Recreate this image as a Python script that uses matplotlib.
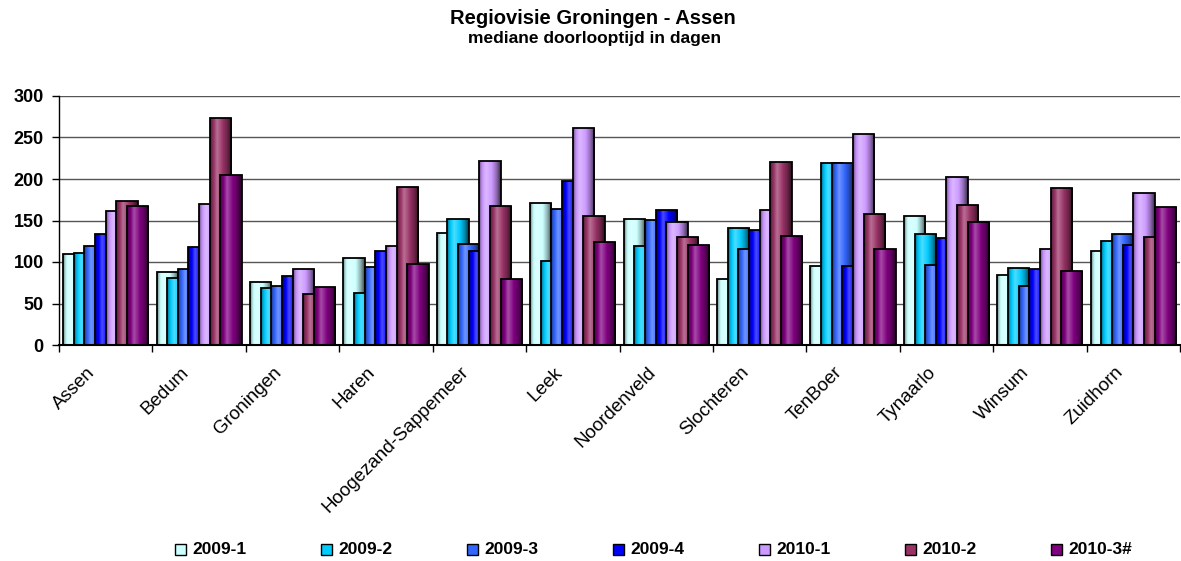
import matplotlib.pyplot as plt
import numpy as np
from matplotlib.patches import Rectangle

plt.rcParams['font.family'] = ['Liberation Sans', 'DejaVu Sans']

gemeenten = ['Assen', 'Bedum', 'Groningen', 'Haren', 'Hoogezand-Sappemeer', 'Leek',
             'Noordenveld', 'Slochteren', 'TenBoer', 'Tynaarlo', 'Winsum', 'Zuidhorn']
periodes = ['2009-1', '2009-2', '2009-3', '2009-4', '2010-1', '2010-2', '2010-3#']

d2009_1 = [110, 88, 76, 105, 135, 171, 152, 80, 95, 155, 84, 113]
d2009_2 = [111, 81, 69, 63, 152, 101, 119, 141, 219, 134, 93, 125]
d2009_3 = [119, 91, 71, 94, 122, 164, 151, 116, 219, 96, 71, 134]
d2009_4 = [134, 118, 83, 113, 113, 198, 163, 139, 95, 129, 91, 121]
d2010_1 = [161, 170, 92, 119, 222, 262, 148, 163, 254, 203, 116, 183]
d2010_2 = [173, 273, 62, 190, 167, 156, 130, 221, 158, 169, 189, 130]
d2010_3 = [167, 205, 70, 97, 79, 124, 121, 131, 116, 148, 89, 166]

reeksen = [d2009_1, d2009_2, d2009_3, d2009_4, d2010_1, d2010_2, d2010_3]
kleuren = ['#CCFFFF', '#00CCFF', '#3366FF', '#0000FF', '#CC99FF', '#993366', '#800080']


def shading(kleur, n=64):
    # horizontale kleurverloop: donkere linkerrand, lichte band, donkere rechterkant
    c = np.array(plt.matplotlib.colors.to_rgb(kleur))
    t = np.linspace(0, 1, n)
    a = np.interp(t, [0, 0.1, 0.32, 0.55, 0.8, 1.0], [-0.5, -0.15, 0.3, 0.05, -0.3, -0.72])
    rij = np.empty((n, 3))
    for i, v in enumerate(a):
        if v >= 0:
            rij[i] = c + (1 - c) * v
        else:
            rij[i] = c * (1 + v)
    return rij[np.newaxis, :, :]


fig = plt.figure(figsize=(11.81, 5.61), dpi=100)
ax = fig.add_axes([59 / 1181, 1 - 345 / 561, (1180 - 59) / 1181, (345 - 96) / 561])

x = np.arange(len(gemeenten))
stap = 0.114
breedte = 2 * stap

for j, (waarden, kleur) in enumerate(zip(reeksen, kleuren)):
    grad = shading(kleur)
    for i, h in enumerate(waarden):
        x0 = x[i] + (j - 3) * stap - breedte / 2
        rect = Rectangle((x0, 0), breedte, h, facecolor=kleur, edgecolor='none',
                         zorder=3 + j)
        ax.add_patch(rect)
        im = ax.imshow(grad, extent=[x0, x0 + breedte, 0, h], aspect='auto',
                       interpolation='bilinear', zorder=3 + j)
        im.set_clip_path(rect)
        ax.add_patch(Rectangle((x0, 0), breedte, h, facecolor='none',
                               edgecolor='black', linewidth=1.3, zorder=3 + j))

ax.set_xlim(-0.5, len(gemeenten) - 0.5)
ax.set_ylim(0, 300)
ax.set_yticks(range(0, 301, 50))
ax.yaxis.grid(True, color='#555555', linewidth=1.0, zorder=0)
ax.set_axisbelow(True)

for s in ['top', 'right']:
    ax.spines[s].set_visible(False)
ax.spines['left'].set_linewidth(1.0)
ax.spines['bottom'].set_linewidth(1.5)
ax.spines['bottom'].set_zorder(20)

ax.set_xticks(np.arange(len(gemeenten) + 1) - 0.5)
ax.set_xticklabels([])
ax.tick_params(axis='x', direction='out', length=5, width=1)
ax.tick_params(axis='y', direction='out', length=5, width=1, pad=6, labelsize=13)
for lbl in ax.get_yticklabels():
    lbl.set_fontweight('bold')

for i, naam in enumerate(gemeenten):
    ax.annotate(naam, xy=(x[i], 0), xycoords=('data', 'axes fraction'),
                xytext=(-10 * 0.72, -28 * 0.72), textcoords='offset points',
                rotation=45, ha='right', va='baseline', rotation_mode='anchor',
                fontsize=13.5)

fig.text(593 / 1181, 1 - 18 / 561, 'Regiovisie Groningen - Assen', ha='center',
         va='center', fontsize=14.5, fontweight='bold')
fig.text(595 / 1181, 1 - 39 / 561, 'mediane doorlooptijd in dagen', ha='center',
         va='center', fontsize=12.5, fontweight='bold')

# legenda onderaan, gelijk verdeeld
for j, (p, kleur) in enumerate(zip(periodes, kleuren)):
    mx = 175 + j * 146
    fig.patches.append(Rectangle((mx / 1181, 1 - 555 / 561), 11 / 1181, 11 / 561,
                                 transform=fig.transFigure, facecolor=kleur,
                                 edgecolor='black', linewidth=1.0))
    fig.text((mx + 17) / 1181, 1 - 549 / 561, p, ha='left', va='center',
             fontsize=12.5, fontweight='bold')

fig.savefig('out.png', dpi=100)
